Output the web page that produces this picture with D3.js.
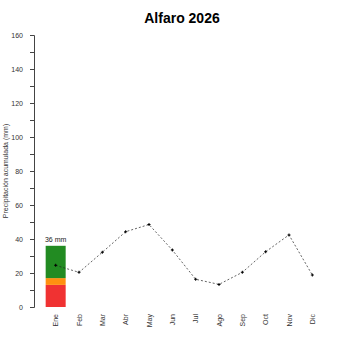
<!DOCTYPE html>
<html>
<head>
<meta charset="utf-8">
<script src="https://cdn.jsdelivr.net/npm/d3@7"></script>
<style>
  body { margin: 0; background: #fff; }
  svg { display: block; font-family: "Liberation Sans", Arial, sans-serif; }
  .y.axis path, .y.axis line { stroke: #444; }
  .y.axis text { fill: #333; font-size: 7px; }
</style>
</head>
<body>
<div id="chart"></div>
<script>
// data
var months = ['Ene', 'Feb', 'Mar', 'Abr', 'May', 'Jun', 'Jul', 'Ago', 'Sep', 'Oct', 'Nov', 'Dic'];
var rainfall = [24.5, 20.4, 32.2, 44.3, 48.5, 33.5, 16.3, 13.3, 20.4, 32.5, 42.4, 18.8];
// stacked bar for the current month (cumulative upper bounds)
var barMonth = 'Ene';
var barStops = [13, 17, 36];
var barColors = ['#f03232', '#ff9010', '#228b22'];
var barLabel = '36 mm';
var yTicks = [0, 20, 40, 60, 80, 100, 120, 140, 160];

var width = 350, height = 350;
var margin = {top: 35, right: 26, bottom: 43, left: 34};

var svg = d3.select('#chart')
  .append('svg')
  .attr('width', width)
  .attr('height', height);

var x = d3.scaleBand()
  .domain(months)
  .range([margin.left + 10, width - margin.right])
  .paddingInner(0);

var y = d3.scaleLinear()
  .domain([0, 160])
  .range([height - margin.bottom, margin.top]);

// title
svg.append('text')
  .attr('x', 182)
  .attr('y', 23)
  .attr('text-anchor', 'middle')
  .style('font-size', '14px')
  .style('font-weight', 'bold')
  .text('Alfaro 2026');

// y axis, minor ticks every 10, labels every 20
var yAxis = d3.axisLeft(y)
  .tickValues(d3.range(0, 161, 10))
  .tickSize(4)
  .tickPadding(7)
  .tickFormat(function(d) { return yTicks.indexOf(d) >= 0 ? d : ''; });

svg.append('g')
  .attr('class', 'y axis')
  .attr('transform', 'translate(' + margin.left + ',0)')
  .call(yAxis);

svg.append('text')
  .attr('transform', 'translate(8,' + y(80) + ')rotate(-90)')
  .attr('text-anchor', 'middle')
  .style('font-size', '7px')
  .style('fill', '#333')
  .text('Precipitación acumulada (mm)');

// month labels, rotated
svg.append('g')
  .selectAll('text')
  .data(months)
  .enter()
  .append('text')
  .attr('transform', function(d) {
    return 'translate(' + (x(d) + x.bandwidth() / 2 + 2.5) + ',' + (y(0) + 7) + ')rotate(-90)';
  })
  .attr('text-anchor', 'end')
  .style('font-size', '7px')
  .style('fill', '#333')
  .text(function(d) { return d; });

// stacked bar
var barW = 20;
var bx = x(barMonth) + x.bandwidth() / 2 - barW / 2;
svg.append('g')
  .selectAll('rect')
  .data(barStops)
  .enter()
  .append('rect')
  .attr('x', bx)
  .attr('width', barW)
  .attr('y', function(d) { return y(d); })
  .attr('height', function(d, i) { return y(i ? barStops[i - 1] : 0) - y(d); })
  .attr('fill', function(d, i) { return barColors[i]; });

svg.append('text')
  .attr('x', bx + barW / 2)
  .attr('y', y(barStops[barStops.length - 1]) - 4)
  .attr('text-anchor', 'middle')
  .style('font-size', '7px')
  .style('fill', '#222')
  .text(barLabel);

// dotted line with markers
var line = d3.line()
  .x(function(d, i) { return x(months[i]) + x.bandwidth() / 2; })
  .y(function(d) { return y(d); });

svg.append('path')
  .datum(rainfall)
  .attr('d', line)
  .style('fill', 'none')
  .style('stroke', '#222')
  .style('stroke-width', 0.7)
  .style('stroke-dasharray', '2,2');

svg.append('g')
  .selectAll('path')
  .data(rainfall)
  .enter()
  .append('path')
  .attr('d', d3.symbol().type(d3.symbolCross).size(5))
  .attr('transform', function(d, i) {
    return 'translate(' + (x(months[i]) + x.bandwidth() / 2) + ',' + y(d) + ')';
  })
  .attr('fill', '#000');
</script>
</body>
</html>
